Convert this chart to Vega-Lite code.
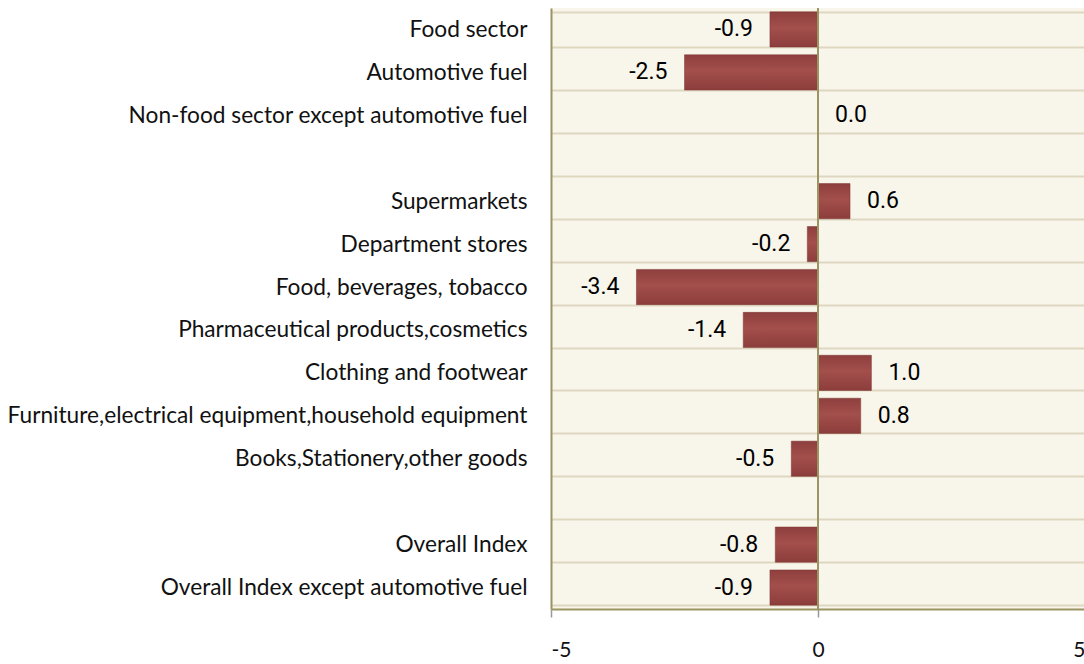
{
  "$schema": "https://vega.github.io/schema/vega-lite/v6.json",
  "autosize": "none",
  "padding": {"left": 551, "top": 8, "right": 0, "bottom": 55},
  "width": 534,
  "height": 601,
  "background": "white",
  "config": {
    "view": {"fill": "#f8f5ea", "stroke": null},
    "locale": {
      "number": {"decimal": ".", "thousands": ",", "grouping": [3], "currency": ["$", ""], "minus": "-"}
    }
  },
  "data": {
    "values": [
      {"category": "Food sector", "value": -0.9},
      {"category": "Automotive fuel", "value": -2.5},
      {"category": "Non-food sector except automotive fuel", "value": 0.0},
      {"category": "Supermarkets", "value": 0.6},
      {"category": "Department stores", "value": -0.2},
      {"category": "Food, beverages, tobacco", "value": -3.4},
      {"category": "Pharmaceutical products,cosmetics", "value": -1.4},
      {"category": "Clothing and footwear", "value": 1.0},
      {"category": "Furniture,electrical equipment,household equipment", "value": 0.8},
      {"category": "Books,Stationery,other goods", "value": -0.5},
      {"category": "Overall Index", "value": -0.8},
      {"category": "Overall Index except automotive fuel", "value": -0.9}
    ]
  },
  "encoding": {
    "y": {
      "field": "category",
      "type": "nominal",
      "scale": {
        "domain": [
          "Food sector", "Automotive fuel", "Non-food sector except automotive fuel", "_gap1",
          "Supermarkets", "Department stores", "Food, beverages, tobacco",
          "Pharmaceutical products,cosmetics", "Clothing and footwear",
          "Furniture,electrical equipment,household equipment", "Books,Stationery,other goods", "_gap2",
          "Overall Index", "Overall Index except automotive fuel"
        ],
        "paddingInner": 0.18,
        "paddingOuter": 0.09
      },
      "axis": {
        "title": null,
        "labelExpr": "indexof(datum.label, '_gap') == 0 ? '' : datum.label",
        "labelFont": "Lato",
        "labelFontSize": 22.7,
        "labelLimit": 700,
        "labelColor": "#111111",
        "labelPadding": 24,
        "ticks": false,
        "tickBand": "extent",
        "grid": true,
        "gridColor": "#ddd7c0",
        "gridWidth": 2,
        "domain": true,
        "domainColor": "#9c9462",
        "domainWidth": 2
      }
    }
  },
  "layer": [
    {
      "mark": {
        "type": "bar",
        "color": {
          "gradient": "linear", "x1": 0, "y1": 0, "x2": 0, "y2": 1,
          "stops": [
            {"offset": 0, "color": "#8e3f3d"},
            {"offset": 0.45, "color": "#a34f4c"},
            {"offset": 1, "color": "#8c3d3b"}
          ]
        },
        "stroke": "#7c3432",
        "strokeWidth": 0.5
      },
      "encoding": {
        "x": {
          "field": "value",
          "type": "quantitative",
          "scale": {"domain": [-5, 5], "nice": false, "zero": false},
          "axis": {
            "title": null,
            "values": [-5, 0, 5],
            "format": "d",
            "grid": false,
            "labelFont": "Lato",
            "labelFontSize": 21,
            "labelColor": "#111111",
            "labelPadding": 22,
            "tickColor": "#999999",
            "tickSize": 8,
            "tickWidth": 1.5,
            "domainColor": "#9c9462",
            "domainWidth": 2
          }
        }
      }
    },
    {
      "mark": {"type": "rule", "color": "#9c9462", "strokeWidth": 2},
      "data": {"values": [{"zero": 0}]},
      "encoding": {"x": {"field": "zero", "type": "quantitative"}, "y": null}
    },
    {
      "transform": [{"filter": "datum.value >= 0"}],
      "mark": {"type": "text", "align": "left", "baseline": "middle", "dx": 17, "font": "Roboto", "fontSize": 23, "color": "#000000"},
      "encoding": {
        "x": {"field": "value", "type": "quantitative"},
        "text": {"field": "value", "type": "quantitative", "format": ".1f"}
      }
    },
    {
      "transform": [{"filter": "datum.value < 0"}],
      "mark": {"type": "text", "align": "right", "baseline": "middle", "dx": -17, "font": "Roboto", "fontSize": 23, "color": "#000000"},
      "encoding": {
        "x": {"field": "value", "type": "quantitative"},
        "text": {"field": "value", "type": "quantitative", "format": ".1f"}
      }
    }
  ]
}
